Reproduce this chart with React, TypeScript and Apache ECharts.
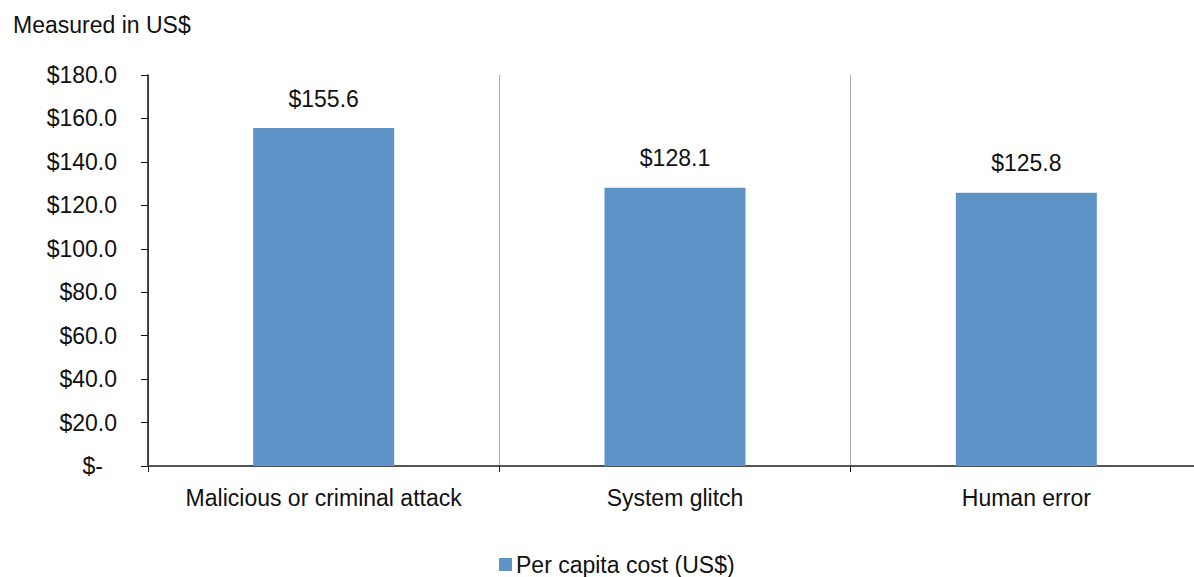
import React, { useEffect, useRef } from "react";
import * as echarts from "echarts";

const categories = ["Malicious or criminal attack", "System glitch", "Human error"];
const values = [155.6, 128.1, 125.8];
const seriesName = "Per capita cost (US$)";
const axisTitle = "Measured in US$";

export default function App() {
  const ref = useRef<HTMLDivElement>(null);
  useEffect(() => {
    document.body.style.margin = "0";
    document.body.style.overflow = "hidden";
    const chart = echarts.init(ref.current!, null, { renderer: "svg" });
    const font = "'Liberation Sans', Arial, sans-serif";
    const fs = 23;
    chart.setOption({
      animation: false,
      textStyle: { fontFamily: font },
      title: {
        text: axisTitle,
        left: 8,
        top: 8,
        textStyle: { fontFamily: font, fontSize: fs, fontWeight: "normal", color: "#111" },
      },
      legend: {
        top: 548,
        left: 494,
        itemWidth: 13,
        itemHeight: 13,
        itemGap: 4,
        icon: "rect",
        textStyle: { fontFamily: font, fontSize: fs, color: "#111", padding: [0, 0, 0, -1] },
        data: [seriesName],
      },
      grid: { left: 148, right: 0, top: 75, bottom: 111, containLabel: false },
      xAxis: {
        type: "category",
        data: categories,
        axisLine: { lineStyle: { color: "#555", width: 2 } },
        axisTick: { show: true, interval: 0, alignWithLabel: false, length: 6, lineStyle: { color: "#222" } },
        axisLabel: { interval: 0, fontFamily: font, fontSize: fs, color: "#111", margin: 20 },
        splitLine: { show: true, interval: 0, lineStyle: { color: "#aaa", width: 1 } },
      },
      yAxis: {
        type: "value",
        min: 0,
        max: 180,
        interval: 20,
        axisLine: { show: true, lineStyle: { color: "#111", width: 1.5 } },
        axisTick: { show: true, length: 7, lineStyle: { color: "#111" } },
        splitLine: { show: false },
        axisLabel: {
          fontFamily: font,
          fontSize: fs,
          color: "#111",
          margin: 31,
          formatter: (v: number) => (v === 0 ? "{z|$-}" : "$" + v.toFixed(1)),
          rich: { z: { fontFamily: font, fontSize: fs, color: "#111", padding: [0, 14, 0, 0] } },
        },
      },
      series: [
        {
          name: seriesName,
          type: "bar",
          data: values,
          barWidth: 141,
          itemStyle: { color: "#5e93c8" },
          label: {
            show: true,
            position: "top",
            distance: 18,
            fontFamily: font,
            fontSize: fs,
            color: "#111",
            formatter: (p: any) => "$" + p.value.toFixed(1),
          },
        },
      ],
    });
    return () => chart.dispose();
  }, []);
  return (
    <div style={{ width: 1194, height: 577, overflow: "hidden", position: "relative" }}>
      <div ref={ref} style={{ width: 1202, height: 577, position: "absolute", left: 0, top: 0 }} />
    </div>
  );
}
